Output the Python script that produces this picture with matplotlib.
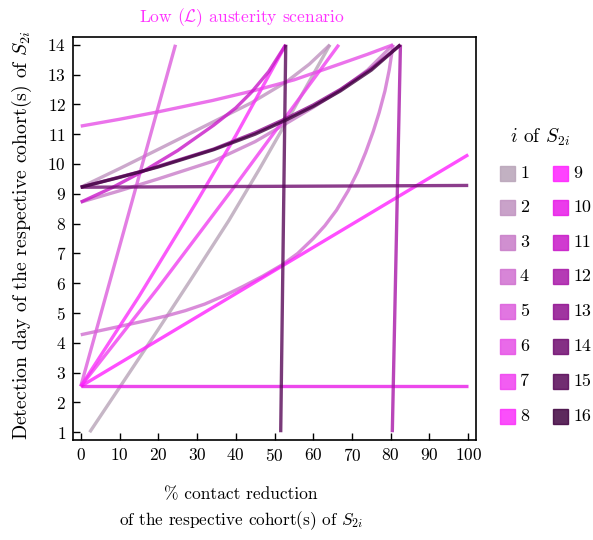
import matplotlib
matplotlib.use('Agg')
import matplotlib.pyplot as plt
from matplotlib.patches import Rectangle

plt.rcParams['font.family'] = 'serif'
plt.rcParams['font.serif'] = ['cmr10']
plt.rcParams['mathtext.fontset'] = 'cm'
plt.rcParams['axes.formatter.use_mathtext'] = True

# cohort colours, 1..16
colors = ['#b8a4b8', '#c092c0', '#c87cc8', '#d070d0', '#dc5edc', '#e650e6',
          '#f040f0', '#fa30fa', '#ff22ff', '#e81ae8', '#c818c8', '#a818a8',
          '#901090', '#700c70', '#580858', '#400440']

# detection day vs % contact reduction, one series per cohort
x_1 = [2.3, 10, 20, 28.3, 38.2, 46.2, 55, 64.3]
y_1 = [1.0, 2.5, 4.45, 6.1, 8.1, 9.85, 11.85, 14.0]
x_2 = [0, 10.25, 20, 34, 44, 53, 59, 64.3]
y_2 = [9.22, 9.86, 10.49, 11.4, 12.05, 12.75, 13.35, 14.0]
x_3 = [0, 10, 20, 34.3, 45, 52.9, 60, 67, 74, 80.6]
y_3 = [8.72, 9.1, 9.5, 10.1, 10.75, 11.35, 11.9, 12.48, 13.15, 14.0]
x_4 = [0, 10, 16, 22, 27, 32, 37, 42, 47, 52, 56, 60, 63, 66, 69, 71.5,
       73.5, 75.5, 77, 78.5, 79.6, 80.6]
y_4 = [4.27, 4.55, 4.72, 4.9, 5.08, 5.3, 5.58, 5.9, 6.24, 6.62, 7.0, 7.5, 7.93,
       8.45, 9.1, 9.75, 10.38, 11.1, 11.72, 12.45, 13.15, 14.0]
x_5 = [0, 24.45]
y_5 = [2.54, 14.0]
x_6 = [0, 10, 20, 34, 45, 55, 67, 74, 80.6]
y_6 = [11.27, 11.5, 11.75, 12.13, 12.47, 12.82, 13.36, 13.68, 14.0]
x_7 = [0, 20, 40, 55, 66.6]
y_7 = [2.54, 5.85, 9.3, 11.95, 14.0]
x_8 = [0, 15, 30, 40, 52.9]
y_8 = [2.54, 5.55, 8.75, 10.95, 14.0]
x_9 = [0, 100]
y_9 = [2.54, 10.31]
x_10 = [0, 100]
y_10 = [2.54, 2.54]
x_11 = [0, 8, 16.7, 25, 34.3, 40, 44, 48.5, 52.9]
y_11 = [8.72, 9.2, 9.8, 10.45, 11.3, 11.88, 12.4, 13.1, 14.0]
x_12 = [80.4, 82.5]
y_12 = [1.0, 14.0]
x_13 = [0, 17, 34.3, 45, 52.9, 60, 67, 75, 82.5]
y_13 = [9.22, 9.8, 10.5, 11.05, 11.52, 11.98, 12.5, 13.2, 14.0]
x_14 = [0, 100]
y_14 = [9.22, 9.28]
x_15 = [51.6, 52.9]
y_15 = [1.0, 14.0]
x_16 = [0, 10, 20, 34.3, 45, 52.9, 60, 67, 75, 82.5]
y_16 = [9.22, 9.55, 9.9, 10.48, 11.0, 11.47, 11.93, 12.45, 13.15, 14.0]

series = [(x_1, y_1), (x_2, y_2), (x_3, y_3), (x_4, y_4), (x_5, y_5), (x_6, y_6),
          (x_7, y_7), (x_8, y_8), (x_9, y_9), (x_10, y_10), (x_11, y_11), (x_12, y_12),
          (x_13, y_13), (x_14, y_14), (x_15, y_15), (x_16, y_16)]

x_ticks = list(range(0, 101, 10))
y_ticks = list(range(1, 15))

fig = plt.figure(figsize=(5.93, 5.40), dpi=100)
ax = fig.add_axes([73 / 593, 1 - 440 / 540, 403 / 593, 403 / 540])

for (xs, ys), c in zip(series, colors):
    ax.plot(xs, ys, color=c, lw=2.4, alpha=0.8, solid_capstyle='butt')

ax.set_xlim(-2, 102)
ax.set_ylim(0.74, 14.26)
ax.set_xticks(x_ticks)
ax.set_yticks(y_ticks)
ax.tick_params(direction='in', length=5, width=1, labelsize=12.5, pad=5)
for s in ax.spines.values():
    s.set_linewidth(1.2)

fig.text(242 / 593, 1 - 18 / 540, r'Low ($\mathcal{L}$) austerity scenario',
         color='#ff33ff', fontsize=12.6, ha='center', va='center')
fig.text(241 / 593, 1 - 495 / 540, '% contact reduction',
         fontsize=12.5, ha='center', va='center')
fig.text(241 / 593, 1 - 521 / 540, r'of the respective cohort(s) of $S_{2i}$',
         fontsize=12.4, ha='center', va='center')
fig.text(22 / 593, 1 - 235 / 540, r'Detection day of the respective cohort(s) of $S_{2i}$',
         fontsize=14.3, ha='center', va='center', rotation=90)

# legend
fig.text(540 / 593, 1 - 137 / 540, r'$i$ of $S_{2i}$', fontsize=14, ha='center', va='center')
row_y = [173, 207.5, 242, 276.5, 311, 346, 381, 416]
for k, c in enumerate(colors):
    col, row = divmod(k, 8)
    cx = 507 if col == 0 else 560
    cy = row_y[row]
    fig.patches.append(Rectangle(((cx - 7.5) / 593, 1 - (cy + 7.5) / 540), 15 / 593, 15 / 540,
                                 facecolor=c, edgecolor=c, alpha=0.85, lw=1.0,
                                 transform=fig.transFigure, figure=fig))
    fig.text((cx + 13) / 593, 1 - cy / 540, str(k + 1), fontsize=13, ha='left', va='center')

fig.savefig('out.png', dpi=100)
